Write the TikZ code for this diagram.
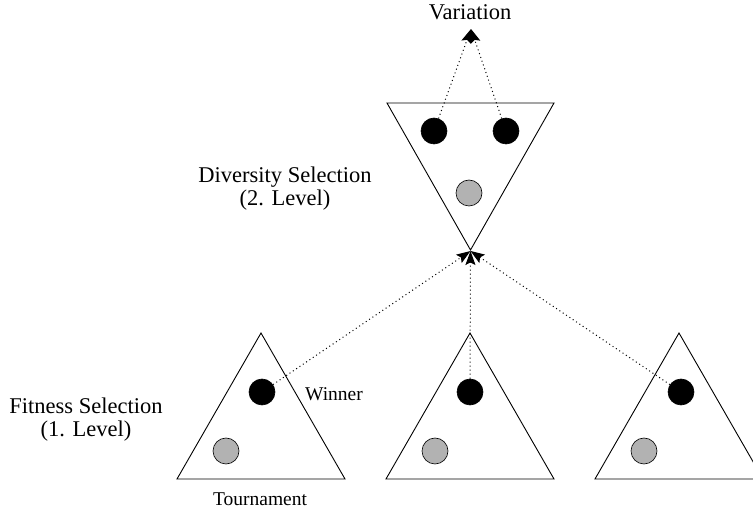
\documentclass[tikz,border=0pt]{standalone}
\usepackage{fontspec}
\setmainfont{Liberation Serif}
\usetikzlibrary{arrows.meta}
\begin{document}
\begin{tikzpicture}[x=1pt,y=1pt,
  tri/.style={draw=black,line width=0.9pt,line join=miter},
  winner/.style={circle,fill=black,draw=black,line width=0.6pt,minimum size=26pt,inner sep=0pt},
  loser/.style={circle,fill=gray!60,draw=black,line width=0.6pt,minimum size=26pt,inner sep=0pt},
  flow/.style={line width=1pt,dash pattern=on 1pt off 3pt,-{Stealth[length=14pt,width=10pt,inset=2.5pt]}},
  big/.style={font=\fontsize{22.5}{23}\selectfont,align=center,inner sep=0pt},
  small/.style={font=\fontsize{19.5}{21}\selectfont,inner sep=0pt}]
\useasboundingbox (0,0) rectangle (753,-510);
\clip (0,0) rectangle (753,-510);
% top inverted triangle
\coordinate (tl) at (387,-103);
\coordinate (tr) at (554,-103);
\coordinate (apex) at (470.5,-250);
\draw[tri] (tl) -- (tr) -- (apex) -- cycle;
% bottom triangles
\foreach \i/\cx in {1/261,2/470,3/679}{
  \coordinate (p\i) at (\cx,-333);
  \coordinate (l\i) at ({\cx-84},-479);
  \coordinate (r\i) at ({\cx+84},-479);
  \draw[tri] (p\i) -- (r\i) -- (l\i) -- cycle;
}
% circles
\node[winner] (t1) at (434,-131) {};
\node[winner] (t2) at (506,-131) {};
\node[loser] (tg) at (469,-193) {};
\node[winner] (b1) at (262,-392) {};
\node[winner] (b2) at (470,-392) {};
\node[winner] (b3) at (681,-392) {};
\node[loser] (g1) at (226,-451) {};
\node[loser] (g2) at (435,-451) {};
\node[loser] (g3) at (644,-451) {};
% arrow targets
\coordinate (vt) at (471,-29);
\coordinate (mt) at (470.5,-251);
\draw[flow] (t1) -- (vt);
\draw[flow] (t2) -- (vt);
\draw[flow] (b1) -- (mt);
\draw[flow] (b2) -- (mt);
\draw[flow] (b3) -- (mt);
% labels
\node[big] (var) at (470,-12) {Variation};
\node[big] (div) at (285,-189) {Diversity Selection\\(2. Level)};
\node[big] (fit) at (86,-420) {Fitness Selection\\(1. Level)};
\node[small] (win) at (334,-394) {Winner};
\node[small] (tour) at (260,-499) {Tournament};
\end{tikzpicture}
\end{document}
